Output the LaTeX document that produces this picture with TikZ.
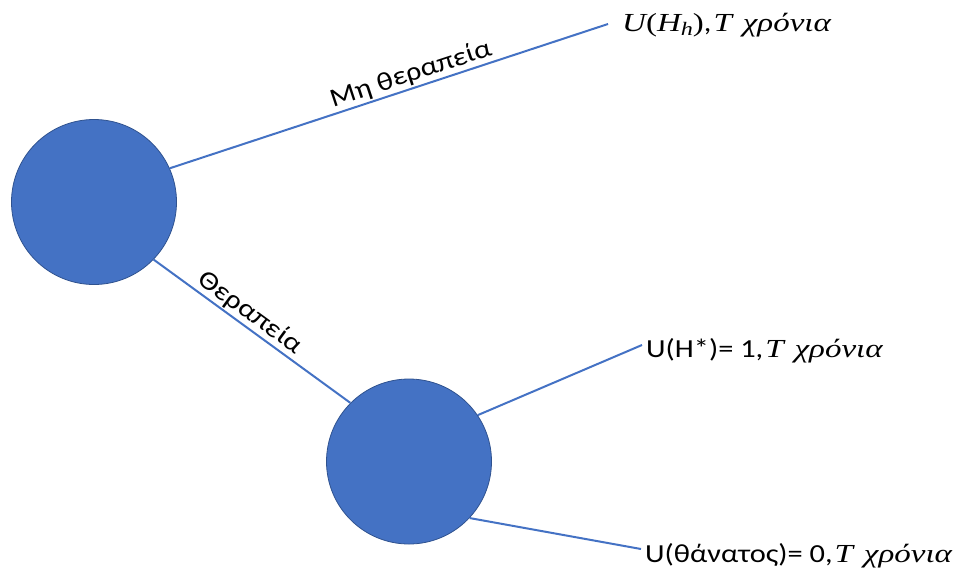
\documentclass[tikz,border=0pt]{standalone}
\usepackage{fontspec}
\setmainfont{Carlito}[FakeStretch=1.17]
\newfontfamily\mathserif{Liberation Serif}[FakeStretch=1.27]
\definecolor{nodeblue}{HTML}{4472C4}
\definecolor{nodeedge}{HTML}{2F528F}
% italic serif, used for the formula parts of the outcome labels
\newcommand\mvar[1]{{\mathserif\itshape #1}}
\newcommand\msub[1]{\raisebox{-0.35ex}{\fontsize{19}{19}\selectfont\mvar{#1}}}
\begin{document}
\begin{tikzpicture}[x=1pt,y=-1pt,
  chance/.style={circle, fill=nodeblue, draw=nodeedge, line width=0.8pt,
                 minimum size=165pt, inner sep=0pt},
  branch/.style={draw=nodeblue, line width=2pt},
  outcome/.style={anchor=base west, inner sep=0pt, font=\fontsize{26}{30}\selectfont},
  edgelabel/.style={sloped, above, inner sep=1.5pt, font=\fontsize{26}{30}\selectfont}]
  \useasboundingbox (0,0) rectangle (960,574);

  % decision and chance nodes
  \node[chance] (root) at (94,202) {};
  \node[chance] (treat) at (409,461.5) {};

  % free ends of the terminal branches
  \coordinate (endNo)    at (608,24);
  \coordinate (endWell)  at (642,345);
  \coordinate (endDeath) at (641,549);

  % branches
  \draw[branch] (root.24.7) -- node[edgelabel, pos=0.56] {Μη θεραπεία} (endNo);
  \draw[branch] (root.-44.5) -- node[edgelabel, pos=0.45] {Θεραπεία} (treat.135.7);
  \draw[branch] (treat.34.4) -- (endWell);
  \draw[branch] (treat.-43.8) -- (endDeath);

  % outcome labels
  \node[outcome] (labNo) at (622,31)
    {\mvar{U}{\mathserif(}\mvar{H}\msub{h}{\mathserif)},\hspace{2pt}\mvar{T}\hspace{11pt}\mvar{χρόνια}};
  \node[outcome] (labWell) at (646,357)
    {U(H*)= 1,\hspace{2pt}\mvar{T}\hspace{11pt}\mvar{χρόνια}};
  \node[outcome] (labDeath) at (645,562)
    {U(θάνατος)= 0,\hspace{2pt}\mvar{T}\hspace{11pt}\mvar{χρόνια}};
\end{tikzpicture}
\end{document}
